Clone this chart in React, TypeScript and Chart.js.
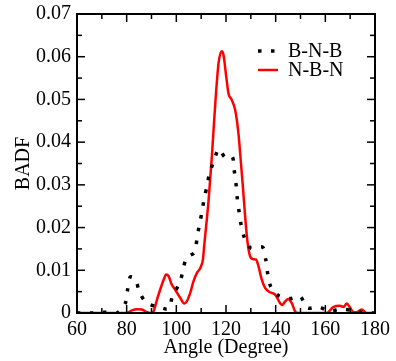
import React, { useEffect, useRef } from "react";
import { Chart, registerables } from "chart.js";

Chart.register(...registerables);

// ---- data ----
const seriesLabels = ["B-N-B", "N-B-N"];

const bnbAngle = [60, 66, 71, 76, 79.4, 80.3, 81.4, 83.5, 85.2, 88.2, 92.9, 96.9, 98.5, 101.2, 102.6, 104.1, 107.3, 108.3, 109.2, 110.3, 111.2, 112.3, 113.4, 115.2, 117.1, 119.7, 122.5, 123.3, 124, 124.5, 125.2, 126, 127.3, 130, 134.7, 136, 136.8, 138, 141.1, 145.8, 149.8, 152.8, 157.5, 161.6, 165.9, 171, 176, 180];
const bnbValue = [0, 0, 0.0002, 0, 0.0022, 0.0052, 0.0084, 0.008, 0.0048, 0.0023, 0.0014, 0.001, 0.0041, 0.0068, 0.0097, 0.0129, 0.0142, 0.0173, 0.0204, 0.0236, 0.0267, 0.0296, 0.0327, 0.0357, 0.0384, 0.0364, 0.0366, 0.0334, 0.0304, 0.0271, 0.024, 0.0209, 0.0178, 0.0152, 0.0154, 0.0125, 0.0092, 0.0062, 0.0041, 0.0034, 0.0039, 0.0012, 0.0014, 0.0004, 0.0009, 0.0006, 0, 0];

const nbnAngle = [60, 80.1, 82.1, 84.1, 86.1, 88.2, 89.5, 90.8, 92.2, 93.5, 94.9, 95.9, 96.9, 98.2, 99.5, 101.6, 103.2, 104.2, 105.6, 106.9, 108.3, 109.6, 110.7, 111.2, 113.0, 114.3, 115.6, 117.0, 118.3, 119.0, 120.1, 121.0, 122.3, 123.7, 125.0, 125.7, 126.8, 127.7, 128.7, 129.7, 131.1, 132.1, 133.1, 134.4, 135.8, 137.5, 139.8, 141.8, 142.7, 143.8, 145.1, 146.5, 147.8, 148.8, 160.6, 163.2, 165.9, 167.3, 168.6, 170, 171.3, 172.6, 174.6, 176.7, 180];
const nbnValue = [0, 0, 0.0006, 0.0009, 0.0008, 0.0002, 0, 0.0004, 0.0031, 0.0055, 0.0078, 0.009, 0.0086, 0.0066, 0.0055, 0.0035, 0.0022, 0.0027, 0.0047, 0.0074, 0.0094, 0.0105, 0.0125, 0.0156, 0.0265, 0.0366, 0.0483, 0.0585, 0.0613, 0.0604, 0.0553, 0.0514, 0.0499, 0.0475, 0.0421, 0.0374, 0.0296, 0.0226, 0.0164, 0.0133, 0.0126, 0.0125, 0.0109, 0.0078, 0.0058, 0.0049, 0.0043, 0.0023, 0.0019, 0.0027, 0.0033, 0.0023, 0.0004, 0, 0, 0.0014, 0.0017, 0.0014, 0.0022, 0.0012, 0.0002, 0.0002, 0.0008, 0, 0];

const xTicks = [60, 80, 100, 120, 140, 160, 180];
const yTicks = [0, 0.01, 0.02, 0.03, 0.04, 0.05, 0.06, 0.07];

const FONT = "'Liberation Serif', 'Times New Roman', serif";

const framePlugin = {
  id: "frame",
  afterDraw(chart: any) {
    const { ctx, chartArea: a, scales } = chart;
    const xs = scales.x;
    const ys = scales.y;
    ctx.save();
    ctx.strokeStyle = "#000";
    ctx.lineWidth = 1.5;
    const seg = (x1: number, y1: number, x2: number, y2: number) => {
      ctx.beginPath();
      ctx.moveTo(x1, y1);
      ctx.lineTo(x2, y2);
      ctx.stroke();
    };
    const MAJ = 8;
    const MIN = 5;
    for (let i = 0; i < xTicks.length; i++) {
      const p = xs.getPixelForValue(xTicks[i]);
      seg(p, a.bottom, p, a.bottom - MAJ);
      seg(p, a.top, p, a.top + MAJ);
      if (i < xTicks.length - 1) {
        const m = xs.getPixelForValue((xTicks[i] + xTicks[i + 1]) / 2);
        seg(m, a.bottom, m, a.bottom - MIN);
        seg(m, a.top, m, a.top + MIN);
      }
    }
    for (let i = 0; i < yTicks.length; i++) {
      const p = ys.getPixelForValue(yTicks[i]);
      seg(a.left, p, a.left + MAJ, p);
      seg(a.right, p, a.right - MAJ, p);
      if (i < yTicks.length - 1) {
        const m = ys.getPixelForValue((yTicks[i] + yTicks[i + 1]) / 2);
        seg(a.left, m, a.left + MIN, m);
        seg(a.right, m, a.right - MIN, m);
      }
    }
    ctx.lineWidth = 2;
    ctx.strokeRect(a.left, a.top, a.right - a.left, a.bottom - a.top);

    // legend inside plot
    const sx = a.right - 117;
    const sy = a.top + 37;
    chart.data.datasets.forEach((ds: any, i: number) => {
      const y = sy + i * 19;
      ctx.save();
      ctx.strokeStyle = ds.borderColor;
      ctx.lineWidth = ds.borderWidth;
      ctx.setLineDash(ds.borderDash || []);
      ctx.lineCap = "butt";
      seg(sx, y, sx + 20, y);
      ctx.restore();
      ctx.fillStyle = "#000";
      ctx.font = `20px ${FONT}`;
      ctx.textBaseline = "middle";
      ctx.textAlign = "left";
      ctx.fillText(ds.label, sx + 30, y + 1);
    });
    ctx.restore();
  },
};

export default function App() {
  const ref = useRef<HTMLCanvasElement | null>(null);
  useEffect(() => {
    if (!ref.current) return;
    const chart = new Chart(ref.current, {
      type: "line",
      data: {
        datasets: [
          {
            label: seriesLabels[0],
            data: bnbAngle.map((x, i) => ({ x, y: bnbValue[i] })),
            borderColor: "#000",
            borderWidth: 3.5,
            borderDash: [3.5, 9.5],
            borderCapStyle: "butt",
            pointRadius: 0,
            tension: 0.3,
            fill: false,
          },
          {
            label: seriesLabels[1],
            data: nbnAngle.map((x, i) => ({ x, y: nbnValue[i] })),
            borderColor: "#ff0000",
            borderWidth: 2.5,
            pointRadius: 0,
            tension: 0.4,
            cubicInterpolationMode: "monotone",
            fill: false,
          },
        ],
      },
      options: {
        animation: false,
        responsive: false,
        layout: { padding: { left: 0, right: 21, top: 14, bottom: 0 } },
        plugins: { legend: { display: false }, tooltip: { enabled: false } },
        font: { family: FONT, size: 20 },
        scales: {
          x: {
            type: "linear",
            min: 60,
            max: 180,
            afterBuildTicks: (s: any) => {
              s.ticks = xTicks.map((v) => ({ value: v }));
            },
            grid: { display: false },
            border: { display: false },
            ticks: { padding: -3, color: "#000", font: { family: FONT, size: 20 }, maxRotation: 0, autoSkip: false },
            title: {
              display: true,
              text: "Angle (Degree)",
              color: "#000",
              font: { family: FONT, size: 20 },
              padding: { top: 0, bottom: 1 },
            },
            afterFit: (s: any) => {
              s.height = 48;
            },
          },
          y: {
            type: "linear",
            min: 0,
            max: 0.07,
            afterBuildTicks: (s: any) => {
              s.ticks = yTicks.map((v) => ({ value: v }));
            },
            grid: { display: false },
            border: { display: false },
            ticks: {
              padding: -2,
              color: "#000",
              font: { family: FONT, size: 20 },
              autoSkip: false,
              callback: (v: any) => (Number(v) === 0 ? "0" : Number(v).toFixed(2)),
            },
            title: {
              display: true,
              text: "BADF",
              color: "#000",
              font: { family: FONT, size: 20 },
              padding: { top: 12, bottom: 0 },
            },
            afterFit: (s: any) => {
              s.width = 77;
            },
          },
        },
      } as any,
      plugins: [framePlugin],
    });
    return () => chart.destroy();
  }, []);
  return (
    <div style={{ position: "fixed", left: 0, top: 0, width: 396, height: 361, background: "#fff" }}>
      <canvas ref={ref} width={396} height={361} style={{ width: 396, height: 361, display: "block" }} />
    </div>
  );
}
